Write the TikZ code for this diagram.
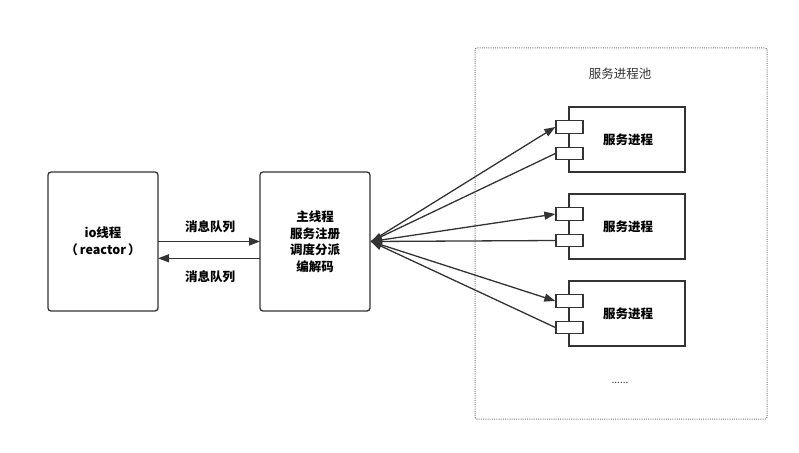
\documentclass[tikz,border=0pt]{standalone}
\usepackage{fontspec}
\setmainfont{Noto Sans CJK SC}
\newfontfamily\cjk{Noto Sans CJK SC}
\usetikzlibrary{arrows.meta}
\definecolor{ln}{HTML}{333333}
\definecolor{dotc}{HTML}{777777}
\begin{document}
\begin{tikzpicture}[x=1pt,y=-1pt,
  bigbox/.style={draw=ln,line width=1.3pt,rounded corners=3pt,minimum width=110pt,minimum height=139pt,inner sep=0pt,align=center,text=black,font=\cjk\bfseries\fontsize{12.5}{16.5}\selectfont},
  compbox/.style={draw=ln,line width=1.3pt,fill=white,minimum width=116pt,minimum height=65pt,inner sep=0pt,text=black,font=\cjk\bfseries\fontsize{12.5}{15}\selectfont},
  portbox/.style={draw=ln,line width=1.3pt,fill=white,minimum width=27pt,minimum height=12.5pt,inner sep=0pt},
  lbl/.style={text=black,font=\cjk\bfseries\fontsize{12.5}{15}\selectfont,inner sep=0pt},
  conn/.style={draw=ln,line width=1.3pt,-{Triangle[length=11pt,width=8pt]}},
  pool/.style={draw=dotc,line width=1pt,dash pattern=on 1pt off 1.2pt,rounded corners=2pt}
]
\useasboundingbox (0,0) rectangle (799,452);
\fill[white] (0,0) rectangle (799,452);

% pool
\draw[pool] (475,48) rectangle (767,419);
\node[text=ln,font=\cjk\fontsize{12.5}{15}\selectfont,inner sep=0pt] (pooltitle) at (620,74) {服务进程池};
\node[text=ln,font=\cjk\fontsize{10}{12}\selectfont,inner sep=0pt] (dots) at (620,383) {......};

% main boxes
\node[bigbox] (io) at (103,241.5) {io线程\\（\,reactor\,）};
\node[bigbox] (main) at (315,241.5) {主线程\\服务注册\\调度分派\\编解码};

% components
\foreach \i/\y in {1/139.5,2/226.5,3/313.5}{
  \node[compbox,text width=116pt,align=center] (c\i) at (627,\y) {\hspace*{2pt}服务进程};
  \node[portbox] (p\i a) at (569.5,\y-12.5) {};
  \node[portbox] (p\i b) at (569.5,\y+14) {};
}

% io <-> main
\coordinate (ioR1) at (158,241.5);
\coordinate (mainL1) at (260,241.5);
\coordinate (ioR2) at (158,258.3);
\coordinate (mainL2) at (260,258.3);
\draw[conn] (ioR1) -- (mainL1);
\draw[conn] (mainL2) -- (ioR2);
\node[lbl] (q1) at (210,227) {消息队列};
\node[lbl] (q2) at (210,276.5) {消息队列};

% main <-> components
\coordinate (mE) at (371,241.5);
\foreach \i in {1,2,3}{
  \draw[conn] (mE) -- (p\i a.west);
  \draw[conn] (p\i b.west) -- (mE);
}
\end{tikzpicture}
\end{document}
